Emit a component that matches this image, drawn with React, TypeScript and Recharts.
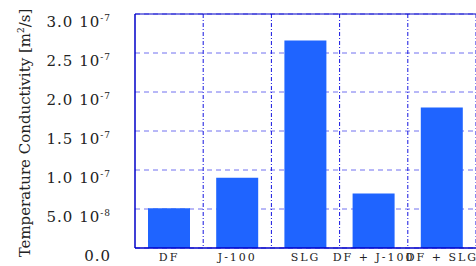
import { BarChart, Bar, XAxis, YAxis, CartesianGrid, ReferenceLine } from 'recharts';

const categories = ['DF', 'J-100', 'SLG', 'DF + J-100', 'DF + SLG'];
const conductivity = [5.1e-8, 9.0e-8, 2.66e-7, 7.0e-8, 1.8e-7];
const yTicks = [0, 5e-8, 1e-7, 1.5e-7, 2e-7, 2.5e-7, 3e-7];

const data = categories.map((name, i) => ({ name, value: conductivity[i] }));

const FONT = '"DejaVu Serif", serif';

// 5.0 10^-8 形式の目盛
const YTick = ({ x, y, payload }: any) => {
  const v = payload.value as number;
  if (v === 0) {
    return (
      <text x={x - 16} y={y + 13} textAnchor="end" fontFamily={FONT} fontSize={15} fill="#222" letterSpacing={1}>
        0.0
      </text>
    );
  }
  const exp = Math.floor(Math.log10(v) + 1e-9);
  const mant = (v / Math.pow(10, exp)).toFixed(1);
  return (
    <text x={x - 16} y={y + 13} textAnchor="end" fontFamily={FONT} fontSize={15} fill="#222" letterSpacing={1}>
      {mant} 10
      <tspan fontSize={9} dy={-6}>{exp}</tspan>
    </text>
  );
};

const XTick = ({ x, y, payload }: any) => (
  <text x={x} y={261} textAnchor="middle" fontFamily={FONT} fontSize={11} fill="#222" letterSpacing={2}>
    {payload.value}
  </text>
);

export default function App() {
  return (
    <div style={{ position: 'absolute', left: 0, top: 0, background: '#fff' }}>
      <BarChart
        width={476}
        height={266}
        data={data}
        margin={{ top: 14, right: 0, left: 0, bottom: 0 }}
        barCategoryGap={13}
      >
        <CartesianGrid horizontal={true} vertical={false} stroke="#7070f0" strokeDasharray="5 4" />
        <CartesianGrid
          horizontal={false}
          vertical={true}
          stroke="#1414e0"
          strokeDasharray="4 2 1 2"
          verticalCoordinatesGenerator={({ offset }: any) =>
            categories.map((_, i) => offset.left + ((i + 1) * offset.width) / categories.length)
          }
        />
        <XAxis
          dataKey="name"
          height={18}
          interval={0}
          tickLine={false}
          axisLine={{ stroke: '#0000c8', strokeWidth: 1.5 }}
          tick={<XTick />}
        />
        <YAxis
          width={135}
          domain={[0, 3e-7]}
          ticks={yTicks}
          tickLine={false}
          axisLine={{ stroke: '#0000c8', strokeWidth: 1.5 }}
          tick={<YTick />}
          label={{
            content: () => (
              <text
                x={30}
                y={133}
                transform="rotate(-90, 30, 133)"
                textAnchor="middle"
                fontFamily={FONT}
                fontSize={15}
                fill="#222"
              >
                Temperature Conductivity [m
                <tspan fontSize={9} dy={-6}>2</tspan>
                <tspan dy={6}>/s]</tspan>
              </text>
            ),
          }}
        />
        <ReferenceLine y={3e-7} stroke="#0000c8" strokeWidth={1.2} />
        <Bar dataKey="value" fill="#1f64ff" isAnimationActive={false} />
      </BarChart>
    </div>
  );
}
